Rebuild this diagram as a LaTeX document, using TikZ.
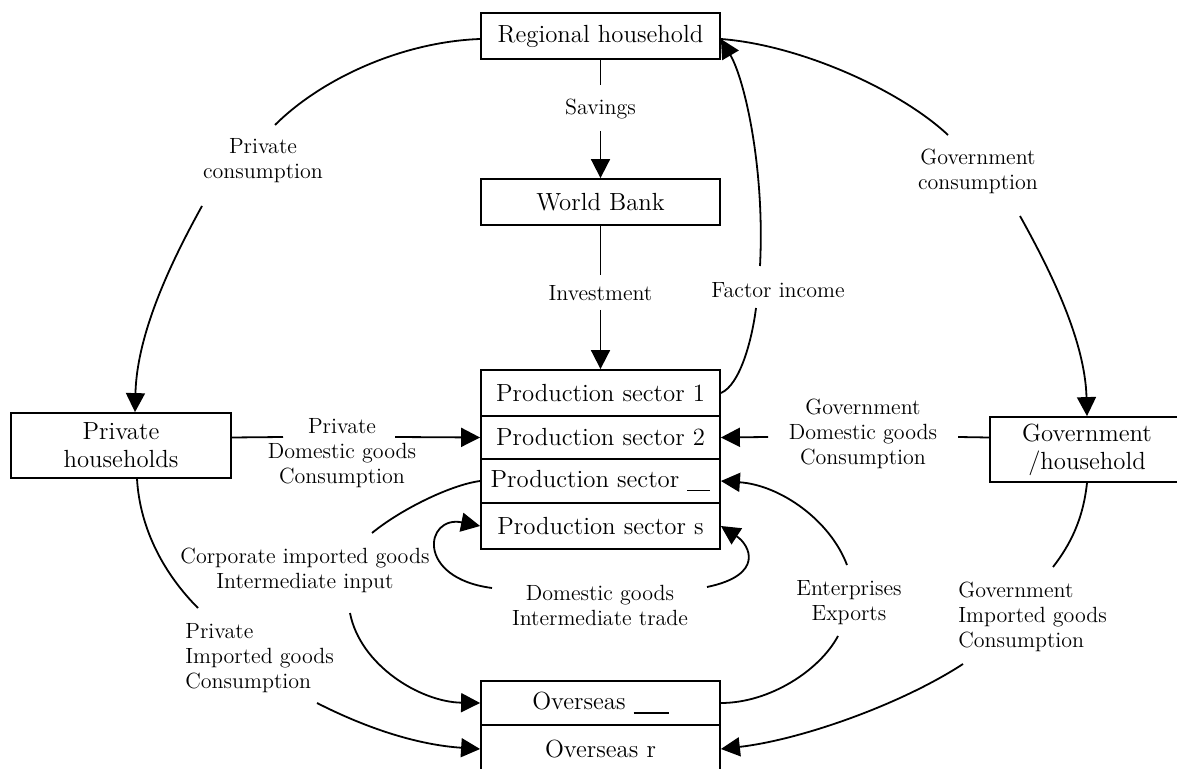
\documentclass[tikz,border=0pt]{standalone}
\usetikzlibrary{arrows.meta,calc}
\newcommand{\blankline}[1]{\rule[-1.8pt]{#1}{0.55pt}}
\begin{document}
\begin{tikzpicture}[x=0.5pt,y=-0.5pt,
  box/.style={draw, line width=0.9pt, inner sep=0pt, align=center, font=\fontsize{12.4}{14}\selectfont},
  lbl/.style={inner sep=0pt, align=center, font=\fontsize{11}{12.5}\selectfont},
  con/.style={line width=0.9pt},
  arr/.style={con, -{Triangle[length=9.5pt,width=9.5pt]}}]
\useasboundingbox (0,0) rectangle (1177,769);
% boxes
\node[box, minimum width=119.5pt, minimum height=23pt] (rh) at (600.5,36) {Regional household};
\node[box, minimum width=119.5pt, minimum height=23pt] (wb) at (600.5,202) {World Bank};
\node[box, minimum width=119.5pt, minimum height=23pt] (p1) at (600.5,393) {Production sector 1};
\node[box, minimum width=119.5pt, minimum height=21.5pt] (p2) at (600.5,437.5) {Production sector 2};
\node[box, minimum width=119.5pt, minimum height=22pt] (p3) at (600.5,481) {Production sector \blankline{11.5pt}};
\node[box, minimum width=119.5pt, minimum height=23pt] (p4) at (600.5,526) {Production sector s};
\node[box, minimum width=119.5pt, minimum height=22pt] (o1) at (600.5,703) {Overseas \blankline{17.5pt}};
\node[box, minimum width=119.5pt, minimum height=24pt] (o2) at (600.5,749) {Overseas r};
\node[box, minimum width=110pt, minimum height=32.5pt] (ph) at (121,445.5) {Private\\households};
\node[box, minimum width=97pt, minimum height=32.5pt] (gh) at (1087,449.5) {Government\\/household};
% labels
\node[lbl] (sav) at (600.5,109) {Savings};
\node[lbl] (inv) at (600.5,293) {Investment};
\node[lbl] (pc) at (263,161) {Private\\consumption};
\node[lbl] (gc) at (978,171) {Government\\consumption};
\node[lbl] (fi) at (778,290) {Factor income};
\node[lbl] (pd) at (342,453) {Private\\Domestic goods\\Consumption};
\node[lbl] (gd) at (863,434) {Government\\Domestic goods\\Consumption};
\node[lbl] (ci) at (305,570) {Corporate imported goods\\Intermediate input};
\node[lbl] (dt) at (600,605) {Domestic goods\\Intermediate trade};
\node[lbl] (ee) at (849,603) {Enterprises\\Exports};
\node[lbl, anchor=west, align=left] (gi) at (958,617) {Government\\Imported goods\\Consumption};
\node[lbl, anchor=west, align=left] (pi) at (185,658) {Private\\Imported goods\\Consumption};
% gap ends
\coordinate (sv1) at (600.5,85); \coordinate (sv2) at (600.5,131);
\coordinate (iv1) at (600.5,275); \coordinate (iv2) at (600.5,310);
\coordinate (pcA) at (275,125); \coordinate (pcB) at (202,206);
\coordinate (gcA) at (948,135); \coordinate (gcB) at (1020,216);
\coordinate (fiA) at (756,308); \coordinate (fiB) at (760,266);
\coordinate (pdA) at (283,437); \coordinate (pdB) at (395,437);
\coordinate (gdA) at (958,437); \coordinate (gdB) at (768,437);
\coordinate (ciA) at (372,533); \coordinate (ciB) at (350,613);
\coordinate (dtA) at (492,588); \coordinate (dtB) at (707,587);
\coordinate (eeA) at (847,565); \coordinate (eeB) at (838,636);
\coordinate (giA) at (1053,567); \coordinate (giB) at (963,664);
\coordinate (piA) at (198,608); \coordinate (piB) at (317,703);
% connectors
\draw[con] (rh.south) -- (sv1);
\draw[arr] (sv2) -- (wb.north);
\draw[con] (wb.south) -- (iv1);
\draw[arr] (iv2) -- (p1.north);
\draw[con] ($(rh.west)+(0,3)$) .. controls (400,42) and (320,80) .. (pcA);
\draw[arr] (pcB) .. controls (175,255) and (137,330) .. ($(ph.north)+(14,0)$);
\draw[con] ($(rh.east)+(0,3)$) .. controls (800,45) and (900,90) .. (gcA);
\draw[arr] (gcB) .. controls (1050,270) and (1085,340) .. (gh.north);
\draw[con] (p1.east) .. controls (740,385) and (752,340) .. (fiA);
\draw[arr] (fiB) .. controls (765,170) and (745,80) .. ($(rh.east)+(0,3)$);
\draw[con] (p2 -| ph.east) -- (pdA);
\draw[arr] (pdB) -- (p2.west);
\draw[con] (p2 -| gh.west) -- (gdA);
\draw[arr] (gdB) -- (p2.east);
\draw[con] (p3.west) .. controls (450,485) and (400,510) .. (ciA);
\draw[arr] (ciB) .. controls (360,665) and (420,702) .. (o1.west);
\draw[arr] (dtA) .. controls (415,578) and (425,515) .. (p4.west);
\draw[arr] (dtB) .. controls (765,575) and (750,545) .. (p4.east);
\draw[arr] (eeA) .. controls (830,520) and (780,485) .. (p3.east);
\draw[con] (eeB) .. controls (820,670) and (770,703) .. (o1.east);
\draw[con] (gh.south) .. controls (1083,520) and (1070,545) .. (giA);
\draw[arr] (giB) .. controls (900,705) and (800,740) .. (o2.east);
\draw[con] ($(ph.south)+(16,0)$) .. controls (140,530) and (165,575) .. (piA);
\draw[arr] (piB) .. controls (370,730) and (420,745) .. (o2.west);
\end{tikzpicture}
\end{document}
